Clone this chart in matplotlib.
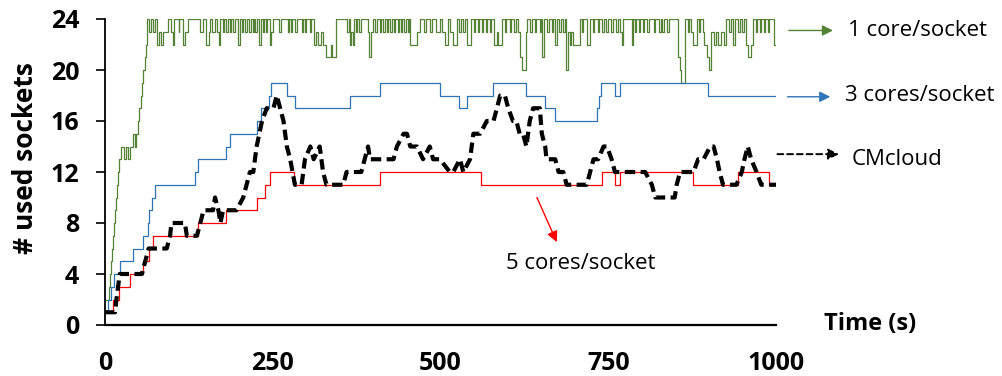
import matplotlib
matplotlib.use("Agg")
import matplotlib.pyplot as plt

plt.rcParams['font.family'] = ['Open Sans', 'DejaVu Sans']

# (time, sockets) change points
one_core = [(0, 2), (6, 3), (8, 4), (9, 5), (10, 6), (12, 7), (13, 8), (15, 9), (16, 10), (18, 11), (19, 12),
            (21, 13), (24, 14), (29, 13), (32, 14), (35, 13), (37, 14), (41, 15), (44, 14), (46, 15), (49, 16),
            (51, 17), (53, 18), (55, 19), (57, 20), (59, 21), (61, 22), (63, 24),
            (66, 23), (68, 24), (72, 23), (74, 24), (78, 22), (81, 23), (84, 22), (87, 23), (94, 24), (99, 23),
            (101, 22), (103, 24), (110, 23), (111, 24), (116, 22), (119, 23), (123, 24), (141, 23), (146, 24),
            (150, 22), (155, 23), (157, 24), (160, 23), (164, 24), (167, 23), (170, 22), (172, 24), (176, 23),
            (178, 24), (181, 23), (183, 24), (186, 23), (188, 24), (191, 23), (194, 24), (198, 22), (201, 24),
            (204, 23), (206, 24), (209, 23), (211, 24), (215, 23), (217, 24), (220, 23), (222, 24), (224, 23),
            (226, 24), (230, 22), (232, 24), (235, 23), (237, 24), (240, 23), (242, 24), (246, 22), (248, 23),
            (251, 24), (260, 23), (262, 24), (272, 23), (274, 24), (277, 23), (279, 24), (283, 23), (286, 24),
            (293, 23), (295, 24), (298, 23), (300, 24), (305, 23), (307, 24), (311, 22), (315, 23), (318, 22),
            (322, 23), (325, 22), (330, 21), (337, 22), (339, 21), (345, 24),
            (360, 23), (363, 24), (365, 22), (367, 23), (369, 22), (371, 24), (374, 23), (376, 24), (379, 23),
            (382, 24), (392, 23), (394, 21), (397, 23), (400, 24), (403, 23), (405, 24), (410, 23), (412, 24),
            (415, 23), (417, 24), (420, 23), (422, 24), (425, 23), (427, 24), (430, 23), (432, 24), (436, 23),
            (438, 24), (441, 23), (443, 24), (446, 23), (448, 24), (451, 23), (453, 24), (455, 22), (465, 23),
            (469, 24), (476, 23), (478, 24), (485, 23), (487, 24), (494, 23), (499, 24), (502, 23), (506, 22),
            (511, 24), (514, 23), (519, 22), (524, 24), (527, 23), (530, 24), (534, 23), (536, 24), (539, 22),
            (546, 24), (550, 23), (552, 24), (556, 23), (558, 24), (562, 23), (564, 24), (568, 23), (570, 24),
            (574, 23), (576, 24), (579, 22), (584, 23), (586, 22), (591, 24), (596, 23), (598, 24), (603, 23),
            (605, 24), (610, 23), (612, 24), (616, 23), (619, 21), (621, 20), (627, 23), (629, 24), (634, 23),
            (636, 24), (641, 23), (643, 24), (648, 23), (650, 24), (652, 21), (654, 24), (659, 23), (661, 24),
            (666, 23), (668, 24), (670, 22), (673, 24), (677, 23), (679, 24), (683, 23), (685, 24), (687, 20),
            (690, 23), (693, 22), (695, 23), (698, 22), (708, 24), (711, 23), (713, 24), (718, 22), (723, 24),
            (727, 23), (729, 24), (734, 23), (736, 24), (740, 23), (743, 24), (747, 23), (750, 24), (754, 23),
            (757, 24), (761, 23), (764, 24), (767, 23), (770, 22), (772, 24), (785, 22), (787, 24), (790, 23),
            (792, 24), (796, 23), (798, 24), (802, 23), (804, 24), (808, 23), (810, 24), (818, 23), (820, 24),
            (826, 23), (828, 24), (830, 23), (833, 24), (837, 23), (840, 24), (854, 21), (857, 20), (859, 19),
            (865, 24), (869, 23), (871, 24), (874, 23), (877, 22), (882, 24), (885, 23), (887, 24), (891, 23),
            (893, 22), (897, 21), (900, 20), (903, 23), (907, 22), (910, 23), (914, 22), (918, 23), (922, 22),
            (926, 24), (930, 23), (933, 24), (936, 22), (939, 24), (943, 23), (946, 24), (950, 23), (953, 24),
            (956, 22), (959, 21), (963, 22), (966, 24), (970, 23), (972, 24), (976, 23), (978, 24), (982, 23),
            (984, 24), (988, 23), (990, 24), (997, 22), (1000, 22)]

three_cores = [(0, 1), (4, 2), (9, 3), (13, 4), (22, 5), (42, 6), (57, 7), (64, 8), (66, 9), (70, 10), (74, 11),
               (134, 12), (139, 13), (181, 14), (186, 15), (226, 16), (232, 17), (244, 18), (247, 19), (271, 18),
               (283, 17), (365, 18), (410, 19), (499, 18), (527, 17), (539, 18), (578, 19), (628, 18), (656, 17),
               (671, 16), (733, 17), (736, 18), (739, 19), (760, 18), (767, 19), (899, 18), (1000, 18)]

five_cores = [(0, 1), (12, 2), (21, 3), (38, 4), (57, 5), (65, 6), (72, 7), (139, 8), (181, 9), (226, 10),
              (238, 11), (246, 12), (281, 11), (410, 12), (561, 11), (740, 12), (760, 11), (767, 12), (877, 11),
              (944, 12), (990, 11), (1000, 11)]

cmcloud = [(0, 1), (15, 1), (17, 2), (22, 4), (55, 4), (60, 5), (65, 6), (92, 6), (97, 7), (99, 8), (119, 8),
           (122, 7), (137, 7), (142, 8), (147, 9), (161, 9), (164, 10), (169, 9), (172, 8), (176, 9), (196, 9),
           (206, 10), (211, 11), (216, 12), (221, 12), (226, 14), (234, 16), (241, 17), (251, 17), (256, 18),
           (261, 17), (266, 16), (271, 14), (276, 13), (283, 11), (293, 11), (298, 13), (306, 14), (311, 13),
           (320, 14), (325, 12), (330, 11), (355, 11), (360, 12), (382, 12), (387, 13), (392, 14), (395, 13),
           (430, 13), (435, 14), (445, 15), (450, 15), (455, 14), (465, 14), (474, 13), (484, 14), (489, 13),
           (499, 13), (514, 12), (519, 12), (529, 13), (534, 12), (544, 13), (549, 15), (559, 15), (569, 16),
           (579, 16), (584, 17), (589, 18), (596, 18), (601, 17), (608, 16), (613, 16), (618, 15), (623, 15),
           (628, 14), (633, 16), (638, 17), (648, 17), (651, 15), (656, 14), (658, 13), (671, 13), (676, 12),
           (683, 12), (688, 11), (718, 11), (723, 12), (728, 13), (735, 13), (743, 14), (748, 14), (755, 13),
           (760, 12), (805, 12), (815, 11), (820, 10), (849, 10), (852, 11), (857, 12), (877, 12), (884, 13),
           (892, 13), (902, 14), (907, 14), (912, 13), (916, 12), (921, 11), (941, 11), (949, 12), (953, 13),
           (958, 14), (963, 13), (971, 12), (978, 11), (1000, 11)]

x_ticks = [0, 250, 500, 750, 1000]
y_ticks = [0, 4, 8, 12, 16, 20, 24]

green = '#548235'
blue = '#2E75B6'
red = '#FF0000'

fig = plt.figure(figsize=(10.03, 3.76), dpi=100)
ax = fig.add_axes([105 / 1003, 51 / 376, 671 / 1003, 306 / 376])

t, v = zip(*one_core)
ax.plot(t, v, color=green, lw=0.9, drawstyle='steps-post', zorder=2)
t, v = zip(*three_cores)
ax.plot(t, v, color=blue, lw=0.9, drawstyle='steps-post', zorder=3)
t, v = zip(*five_cores)
ax.plot(t, v, color=red, lw=0.9, drawstyle='steps-post', zorder=4)
t, v = zip(*cmcloud)
ax.plot(t, v, color='black', lw=3.0, linestyle=(0, (2.5, 1.3)), zorder=5)

ax.set_xlim(0, 1000)
ax.set_ylim(0, 24)
ax.set_xticks(x_ticks)
ax.set_yticks(y_ticks)
for s in ['top', 'right']:
    ax.spines[s].set_visible(False)
ax.spines['left'].set_linewidth(1.3)
ax.spines['bottom'].set_linewidth(1.6)
ax.tick_params(axis='y', direction='out', length=6.5, width=1.2, pad=12, labelsize=18)
ax.tick_params(axis='x', length=0, pad=19, labelsize=18)
for lab in ax.get_xticklabels() + ax.get_yticklabels():
    lab.set_fontweight('bold')

fig.text(26 / 1003, 1 - 158 / 376, '# used sockets', rotation=90, ha='center', va='center',
         fontsize=19, fontweight='bold')
ax.text(1072, 0.1, 'Time (s)', ha='left', va='center', fontsize=17, fontweight='bold', clip_on=False)

# labels with arrows
ax.annotate('', xy=(1089, 23.1), xytext=(1015, 23.1), annotation_clip=False,
            arrowprops=dict(arrowstyle='-|>', color=green, lw=1, mutation_scale=16))
ax.text(1107, 23.1, '1 core/socket', ha='left', va='center', fontsize=16, clip_on=False)

ax.annotate('', xy=(1085, 17.9), xytext=(1013, 17.9), annotation_clip=False,
            arrowprops=dict(arrowstyle='-|>', color=blue, lw=1, mutation_scale=16))
ax.text(1103, 18.0, '3 cores/socket', ha='left', va='center', fontsize=16, clip_on=False)

ax.annotate('', xy=(1098, 13.4), xytext=(998, 13.4), annotation_clip=False,
            arrowprops=dict(arrowstyle='-|>', color='black', lw=1.4, linestyle=(0, (3, 2)),
                            mutation_scale=16))
ax.text(1113, 13.0, 'CMcloud', ha='left', va='center', fontsize=16, clip_on=False)

ax.annotate('', xy=(675, 6.3), xytext=(642, 10.2),
            arrowprops=dict(arrowstyle='-|>', color=red, lw=1, mutation_scale=16))
ax.text(709, 4.8, '5 cores/socket', ha='center', va='center', fontsize=16)

fig.savefig('out.png', dpi=100)
plt.close(fig)
